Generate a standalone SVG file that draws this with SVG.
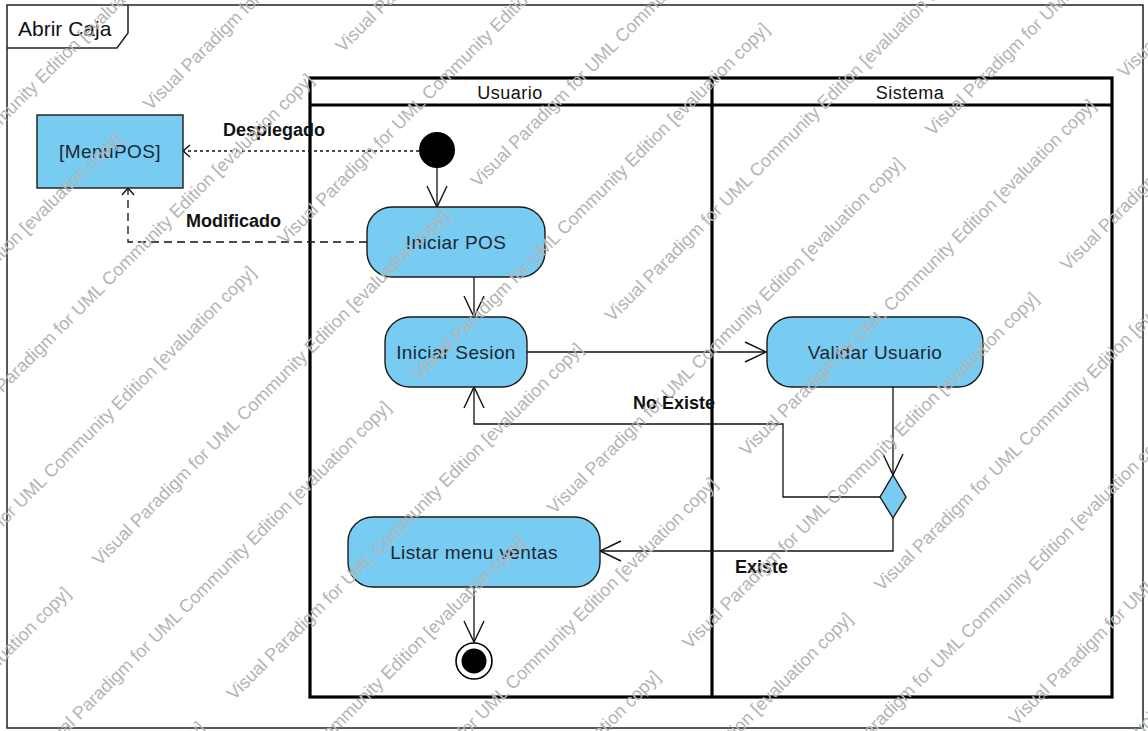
<svg xmlns="http://www.w3.org/2000/svg" xmlns:xlink="http://www.w3.org/1999/xlink" width="1148" height="731" viewBox="0 0 1148 731">
<style>
.frame{fill:none;stroke:#222;stroke-width:1.5}
.lane{fill:none;stroke:#000;stroke-width:3.2}
.node{fill:#79CCF1;stroke:#1a1a1a;stroke-width:1.4}
.ntxt{font-family:"Liberation Sans",Arial,sans-serif;font-size:19px;letter-spacing:0.4px;fill:#1c2733;text-anchor:middle}
.htxt{font-family:"Liberation Sans",Arial,sans-serif;font-size:18px;letter-spacing:0.5px;fill:#111;text-anchor:middle}
.lbl{font-family:"Liberation Sans",Arial,sans-serif;font-size:18px;font-weight:bold;fill:#111}
.edge{fill:none;stroke:#111;stroke-width:1.3}
.wm{font-family:"Liberation Sans",Arial,sans-serif;font-size:18px;fill:#b4b4b4}
</style>
<defs>
<marker id="big" markerUnits="userSpaceOnUse" viewBox="-23 -12 25 24" refX="0" refY="0" markerWidth="25" markerHeight="24" orient="auto">
<path d="M-21,-10 L0,0 L-21,10" fill="none" stroke="#111" stroke-width="1.4"/>
</marker>
<marker id="small" markerUnits="userSpaceOnUse" viewBox="-10 -8 12 16" refX="0" refY="0" markerWidth="12" markerHeight="16" orient="auto">
<path d="M-7,-6 L0,0 L-7,6" fill="none" stroke="#111" stroke-width="1.4"/>
</marker>
<text id="wmt" class="wm">Visual Paradigm for UML Community Edition [evaluation copy]</text>
</defs>
<rect width="1148" height="731" fill="#fff"/>
<g id="frame">
<rect class="frame" x="7" y="5" width="1136" height="723"/>
<path class="frame" d="M7,48 H117 L128,33 V5"/>
<text x="18" y="36" font-family="Liberation Sans, Arial, sans-serif" font-size="21" fill="#111">Abrir Caja</text>
</g>
<g id="swimlanes">
<rect class="lane" x="310" y="78" width="802" height="619"/>
<line class="lane" x1="310" y1="105" x2="1112" y2="105"/>
<line class="lane" x1="712" y1="78" x2="712" y2="697"/>
<text class="htxt" x="510" y="99">Usuario</text>
<text class="htxt" x="910" y="99">Sistema</text>
</g>
<g id="connectors">
<path class="edge" d="M437,168 V207" marker-end="url(#big)"/>
<path class="edge" d="M474,277 V317" marker-end="url(#big)"/>
<path class="edge" d="M527,352 H766" marker-end="url(#big)"/>
<path class="edge" d="M893,387 V475" marker-end="url(#big)"/>
<path class="edge" d="M880,497 H783 V424 H474 V387" marker-end="url(#big)"/>
<path class="edge" d="M893,518 V551 H600" marker-end="url(#big)"/>
<path class="edge" d="M474,587 V642" marker-end="url(#big)"/>
<path class="edge" d="M367,242 H128 V188" stroke-dasharray="8 5" marker-end="url(#small)"/>
<path class="edge" d="M419,151 H183" stroke-dasharray="3 3" marker-end="url(#small)"/>
<text class="lbl" x="223" y="136">Desplegado</text>
<text class="lbl" x="186" y="227">Modificado</text>
<text class="lbl" x="633" y="409">No Existe</text>
<text class="lbl" x="735" y="573">Existe</text>
</g>
<g id="menupos">
<rect class="node" x="37" y="115" width="146" height="73"/>
<text class="ntxt" x="110" y="158">[MenuPOS]</text>
</g>
<g id="initial">
<circle cx="437" cy="150" r="18" fill="#000"/>
</g>
<g id="iniciarpos">
<rect class="node" x="367" y="207" width="178" height="70" rx="25" ry="25"/>
<text class="ntxt" x="456" y="249">Iniciar POS</text>
</g>
<g id="iniciarsesion">
<rect class="node" x="385" y="317" width="142" height="70" rx="25" ry="25"/>
<text class="ntxt" x="456" y="359">Iniciar Sesion</text>
</g>
<g id="validarusuario">
<rect class="node" x="767" y="317" width="216" height="70" rx="25" ry="25"/>
<text class="ntxt" x="875" y="359">Validar Usuario</text>
</g>
<g id="decision">
<polygon class="node" points="893,475 906,497 893,518 880,497"/>
</g>
<g id="listarmenu">
<rect class="node" x="348" y="517" width="252" height="70" rx="25" ry="25"/>
<text class="ntxt" x="474" y="559">Listar menu ventas</text>
</g>
<g id="final">
<circle cx="474" cy="661" r="18" fill="#fff" stroke="#000" stroke-width="1.6"/>
<circle cx="474" cy="661" r="12.5" fill="#000"/>
</g>
<g id="watermark" transform="rotate(-45)">
<use xlink:href="#wmt" x="-330" y="90"/>
<use xlink:href="#wmt" x="-507" y="185"/>
<use xlink:href="#wmt" x="28" y="185"/>
<use xlink:href="#wmt" x="-330" y="280"/>
<use xlink:href="#wmt" x="205" y="280"/>
<use xlink:href="#wmt" x="-507" y="375"/>
<use xlink:href="#wmt" x="28" y="375"/>
<use xlink:href="#wmt" x="-865" y="471"/>
<use xlink:href="#wmt" x="-330" y="471"/>
<use xlink:href="#wmt" x="205" y="471"/>
<use xlink:href="#wmt" x="-1042" y="566"/>
<use xlink:href="#wmt" x="-507" y="566"/>
<use xlink:href="#wmt" x="28" y="566"/>
<use xlink:href="#wmt" x="563" y="566"/>
<use xlink:href="#wmt" x="-865" y="661"/>
<use xlink:href="#wmt" x="-330" y="661"/>
<use xlink:href="#wmt" x="205" y="661"/>
<use xlink:href="#wmt" x="-1042" y="756"/>
<use xlink:href="#wmt" x="-507" y="756"/>
<use xlink:href="#wmt" x="28" y="756"/>
<use xlink:href="#wmt" x="563" y="756"/>
<use xlink:href="#wmt" x="-330" y="851"/>
<use xlink:href="#wmt" x="205" y="851"/>
<use xlink:href="#wmt" x="740" y="851"/>
<use xlink:href="#wmt" x="-507" y="947"/>
<use xlink:href="#wmt" x="28" y="947"/>
<use xlink:href="#wmt" x="563" y="947"/>
<use xlink:href="#wmt" x="-330" y="1042"/>
<use xlink:href="#wmt" x="205" y="1042"/>
<use xlink:href="#wmt" x="28" y="1137"/>
<use xlink:href="#wmt" x="205" y="1232"/>
<use xlink:href="#wmt" x="28" y="1327"/>
</g>
</svg>
